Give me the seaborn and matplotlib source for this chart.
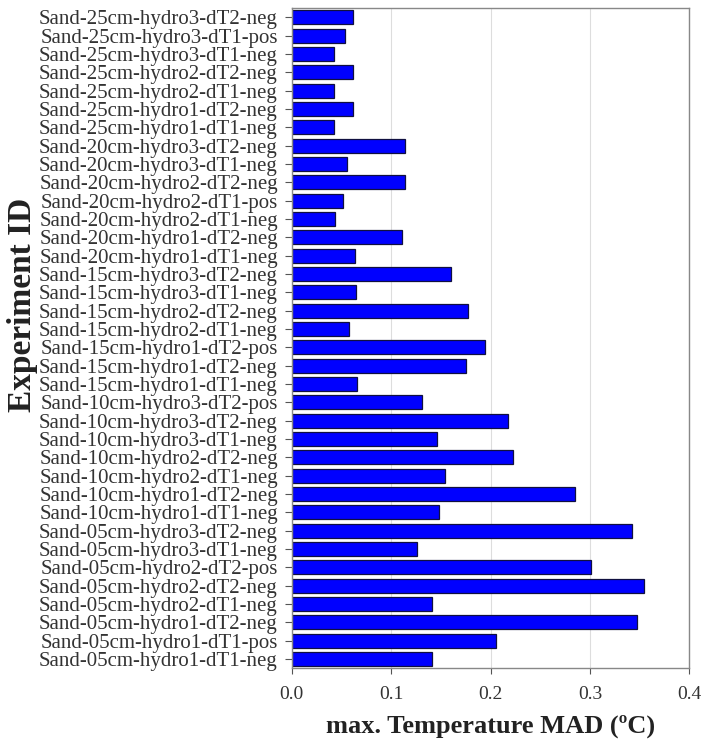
import pandas as pd
import seaborn as sns
import matplotlib.pyplot as plt

experiments = [
    "Sand-25cm-hydro3-dT2-neg", "Sand-25cm-hydro3-dT1-pos", "Sand-25cm-hydro3-dT1-neg",
    "Sand-25cm-hydro2-dT2-neg", "Sand-25cm-hydro2-dT1-neg", "Sand-25cm-hydro1-dT2-neg",
    "Sand-25cm-hydro1-dT1-neg", "Sand-20cm-hydro3-dT2-neg", "Sand-20cm-hydro3-dT1-neg",
    "Sand-20cm-hydro2-dT2-neg", "Sand-20cm-hydro2-dT1-pos", "Sand-20cm-hydro2-dT1-neg",
    "Sand-20cm-hydro1-dT2-neg", "Sand-20cm-hydro1-dT1-neg", "Sand-15cm-hydro3-dT2-neg",
    "Sand-15cm-hydro3-dT1-neg", "Sand-15cm-hydro2-dT2-neg", "Sand-15cm-hydro2-dT1-neg",
    "Sand-15cm-hydro1-dT2-pos", "Sand-15cm-hydro1-dT2-neg", "Sand-15cm-hydro1-dT1-neg",
    "Sand-10cm-hydro3-dT2-pos", "Sand-10cm-hydro3-dT2-neg", "Sand-10cm-hydro3-dT1-neg",
    "Sand-10cm-hydro2-dT2-neg", "Sand-10cm-hydro2-dT1-neg", "Sand-10cm-hydro1-dT2-neg",
    "Sand-10cm-hydro1-dT1-neg", "Sand-05cm-hydro3-dT2-neg", "Sand-05cm-hydro3-dT1-neg",
    "Sand-05cm-hydro2-dT2-pos", "Sand-05cm-hydro2-dT2-neg", "Sand-05cm-hydro2-dT1-neg",
    "Sand-05cm-hydro1-dT2-neg", "Sand-05cm-hydro1-dT1-pos", "Sand-05cm-hydro1-dT1-neg",
]
mad = [
    0.062, 0.054, 0.043, 0.062, 0.043, 0.062, 0.043,
    0.114, 0.056, 0.114, 0.052, 0.044, 0.111, 0.064,
    0.160, 0.065, 0.177, 0.058, 0.194, 0.175, 0.066,
    0.131, 0.218, 0.146, 0.223, 0.154, 0.285, 0.148,
    0.342, 0.126, 0.301, 0.354, 0.141, 0.347, 0.206, 0.141,
]
xticks = [0.0, 0.1, 0.2, 0.3, 0.4]

df = pd.DataFrame({"Experiment ID": experiments, "MAD": mad})

sns.set_style("whitegrid")
plt.rcParams["font.family"] = ["Liberation Serif", "DejaVu Serif"]
plt.rcParams["text.color"] = "#222222"
plt.rcParams["axes.labelcolor"] = "#222222"
plt.rcParams["xtick.color"] = "#555555"
plt.rcParams["ytick.color"] = "#555555"

fig, ax = plt.subplots(figsize=(7.03, 7.4), dpi=100)
fig.subplots_adjust(left=0.415, right=0.9805, top=0.989, bottom=0.097)

sns.barplot(data=df, x="MAD", y="Experiment ID", orient="h", color="#0000ff",
            saturation=1, edgecolor="#101040", linewidth=0.9, width=0.76, ax=ax)

ax.set_xlim(0, 0.4)
ax.set_xticks(xticks)
ax.set_xticklabels([f"{t:.1f}" for t in xticks], color="#333333")
ax.tick_params(axis="x", labelsize=14, length=4, width=0.8, pad=9, bottom=True)
ax.tick_params(axis="y", labelsize=15, length=5, width=0.8, pad=5, left=True)
for lbl in ax.get_yticklabels():
    lbl.set_color("#333333")
ax.grid(axis="x", color="#dddddd", linewidth=0.8)
ax.grid(axis="y", visible=False)
for s in ax.spines.values():
    s.set_color("#888888")
    s.set_linewidth(1.0)

ax.set_xlabel("max. Temperature MAD (ºC)", fontsize=19, fontweight="bold", labelpad=8)
ax.set_ylabel("Experiment ID", fontsize=24, fontweight="bold")
ax.yaxis.set_label_coords(-0.638, 0.55)

plt.savefig("out.png", dpi=100)
